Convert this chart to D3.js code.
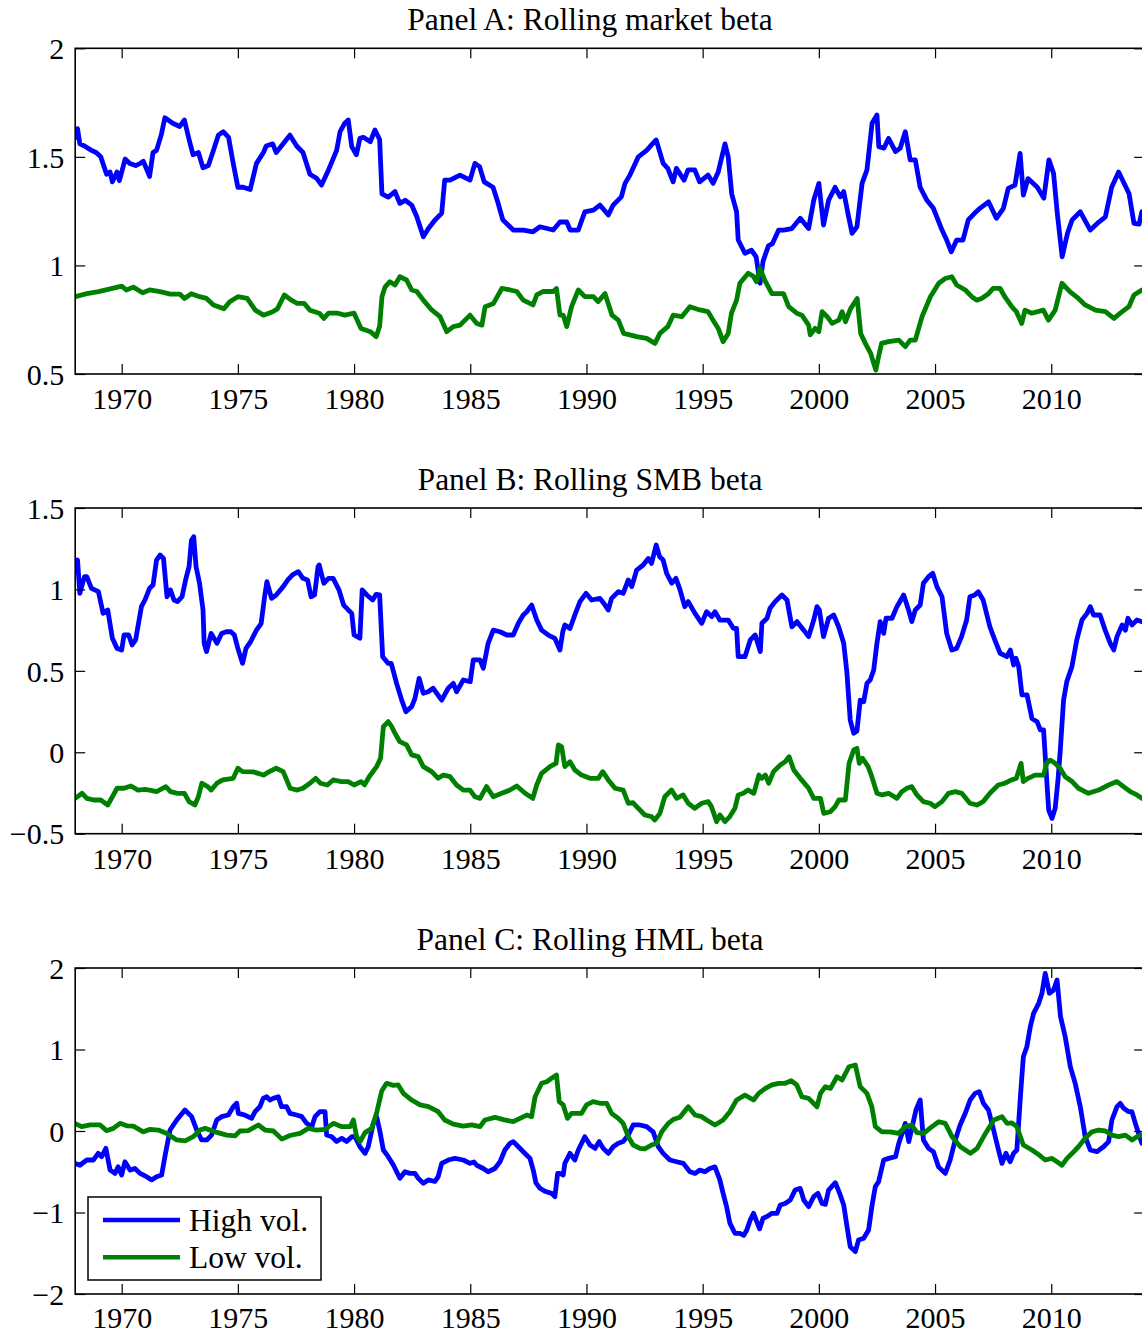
<!DOCTYPE html>
<html>
<head>
<meta charset="utf-8">
<script src="https://cdn.jsdelivr.net/npm/d3@7"></script>
<style>
  html, body { margin: 0; padding: 0; background: #fff; }
  svg { display: block; }
  text { font-family: "Liberation Serif", "Times New Roman", Times, serif; fill: #000; }
</style>
</head>
<body>
<svg id="chart" width="1142" height="1335"></svg>
<script>
// ---------------- DATA ----------------
const xTickYears = [1970, 1975, 1980, 1985, 1990, 1995, 2000, 2005, 2010];
const panelTitles = ["Panel A: Rolling market beta", "Panel B: Rolling SMB beta", "Panel C: Rolling HML beta"];
const yTicksA = [0.5, 1, 1.5, 2];
const yTicksB = [-0.5, 0, 0.5, 1, 1.5];
const yTicksC = [-2, -1, 0, 1, 2];
const legendLabels = ["High vol.", "Low vol."];

// Panel A: rolling market beta [year, beta]
const marketHigh = [
[1968.0,1.59],[1968.1,1.63],[1968.2,1.56],[1968.4,1.55],[1968.7,1.53],[1968.9,1.52],[1969.1,1.50],[1969.35,1.42],
[1969.5,1.43],[1969.6,1.385],[1969.8,1.43],[1969.9,1.39],[1970.15,1.49],[1970.35,1.47],[1970.6,1.46],[1970.8,1.47],
[1970.93,1.48],[1971.2,1.41],[1971.35,1.52],[1971.5,1.53],[1971.7,1.60],[1971.86,1.68],[1972.2,1.655],[1972.5,1.64],
[1972.7,1.67],[1972.9,1.58],[1973.07,1.51],[1973.3,1.52],[1973.5,1.45],[1973.73,1.46],[1973.95,1.53],[1974.16,1.60],
[1974.37,1.616],[1974.6,1.59],[1974.8,1.47],[1975.0,1.36],[1975.23,1.36],[1975.53,1.35],[1975.8,1.47],[1976.1,1.52],
[1976.22,1.55],[1976.5,1.56],[1976.65,1.52],[1976.95,1.56],[1977.24,1.60],[1977.53,1.55],[1977.8,1.52],[1978.1,1.42],
[1978.4,1.40],[1978.6,1.37],[1978.9,1.44],[1979.25,1.53],[1979.4,1.616],[1979.6,1.655],[1979.75,1.67],[1979.9,1.547],
[1980.1,1.51],[1980.25,1.585],[1980.4,1.59],[1980.7,1.57],[1980.9,1.624],[1981.1,1.58],[1981.2,1.33],[1981.47,1.315],
[1981.76,1.34],[1981.97,1.286],[1982.2,1.30],[1982.48,1.278],[1982.7,1.224],[1982.98,1.132],[1983.2,1.17],[1983.49,1.21],
[1983.77,1.24],[1983.9,1.393],[1984.13,1.393],[1984.56,1.416],[1984.99,1.393],[1985.2,1.47],[1985.4,1.455],[1985.6,1.385],
[1985.98,1.36],[1986.2,1.286],[1986.4,1.21],[1986.85,1.163],[1987.28,1.163],[1987.7,1.155],[1988.0,1.178],[1988.57,1.163],
[1988.86,1.20],[1989.15,1.20],[1989.3,1.163],[1989.65,1.163],[1989.93,1.247],[1990.3,1.255],[1990.58,1.278],[1990.94,1.232],
[1991.15,1.278],[1991.5,1.316],[1991.66,1.378],[1991.87,1.416],[1992.1,1.47],[1992.23,1.50],[1992.59,1.53],[1992.8,1.555],
[1993.0,1.578],[1993.3,1.47],[1993.5,1.447],[1993.73,1.385],[1993.87,1.447],[1994.2,1.393],[1994.37,1.44],[1994.66,1.44],
[1994.87,1.385],[1995.23,1.416],[1995.45,1.378],[1995.67,1.43],[1995.96,1.56],[1996.1,1.50],[1996.25,1.33],[1996.46,1.247],
[1996.53,1.117],[1996.82,1.056],[1997.1,1.07],[1997.3,1.04],[1997.47,0.918],[1997.6,1.02],[1997.83,1.09],[1998.0,1.10],
[1998.27,1.163],[1998.48,1.163],[1998.84,1.17],[1999.2,1.217],[1999.56,1.17],[1999.78,1.30],[2000.0,1.378],[2000.2,1.186],
[2000.42,1.30],[2000.7,1.36],[2000.92,1.316],[2001.07,1.34],[2001.28,1.224],[2001.43,1.148],[2001.64,1.178],[2001.86,1.378],
[2002.07,1.44],[2002.29,1.655],[2002.5,1.693],[2002.58,1.547],[2002.8,1.54],[2003.0,1.585],[2003.3,1.524],[2003.5,1.54],
[2003.72,1.616],[2003.93,1.486],[2004.15,1.486],[2004.36,1.36],[2004.65,1.30],[2004.93,1.263],[2005.3,1.163],[2005.5,1.117],
[2005.7,1.063],[2005.93,1.117],[2006.2,1.117],[2006.43,1.21],[2006.7,1.24],[2006.93,1.263],[2007.3,1.293],[2007.64,1.217],
[2007.94,1.263],[2008.15,1.355],[2008.44,1.37],[2008.66,1.516],[2008.8,1.324],[2009.0,1.40],[2009.4,1.36],[2009.68,1.31],
[2009.9,1.486],[2010.1,1.424],[2010.26,1.24],[2010.47,1.04],[2010.7,1.148],[2010.9,1.21],[2011.25,1.247],[2011.68,1.163],
[2012.05,1.20],[2012.33,1.224],[2012.6,1.36],[2012.9,1.43],[2013.35,1.33],[2013.56,1.194],[2013.78,1.19],[2013.9,1.247]
];
const marketLow = [
[1968.0,0.856],[1968.5,0.87],[1969.0,0.879],[1969.6,0.894],[1970.0,0.905],[1970.2,0.887],[1970.5,0.90],[1970.9,0.874],
[1971.2,0.887],[1971.65,0.879],[1972.1,0.868],[1972.5,0.868],[1972.7,0.848],[1973.0,0.87],[1973.35,0.856],[1973.65,0.848],
[1973.95,0.818],[1974.4,0.80],[1974.65,0.833],[1975.0,0.856],[1975.4,0.848],[1975.75,0.794],[1976.1,0.771],[1976.5,0.787],
[1976.7,0.80],[1977.0,0.864],[1977.3,0.84],[1977.55,0.825],[1977.85,0.825],[1978.1,0.794],[1978.5,0.78],[1978.7,0.756],
[1978.9,0.78],[1979.3,0.78],[1979.6,0.771],[1980.0,0.78],[1980.3,0.71],[1980.7,0.695],[1980.95,0.672],[1981.1,0.72],
[1981.2,0.856],[1981.33,0.90],[1981.54,0.925],[1981.76,0.91],[1981.97,0.948],[1982.26,0.933],[1982.48,0.887],[1982.7,0.88],
[1982.98,0.84],[1983.34,0.795],[1983.7,0.764],[1983.99,0.695],[1984.27,0.718],[1984.56,0.725],[1984.99,0.771],[1985.28,0.733],
[1985.5,0.725],[1985.64,0.81],[1986.0,0.825],[1986.36,0.894],[1986.72,0.887],[1987.0,0.88],[1987.28,0.84],[1987.7,0.818],
[1987.86,0.864],[1988.14,0.88],[1988.57,0.88],[1988.71,0.894],[1988.86,0.771],[1989.0,0.771],[1989.15,0.718],[1989.36,0.81],
[1989.65,0.887],[1989.93,0.856],[1990.3,0.856],[1990.5,0.833],[1990.8,0.87],[1991.1,0.771],[1991.37,0.748],[1991.6,0.687],
[1991.87,0.68],[1992.16,0.672],[1992.59,0.664],[1992.95,0.641],[1993.16,0.687],[1993.5,0.718],[1993.73,0.771],[1994.1,0.764],
[1994.45,0.81],[1994.88,0.795],[1995.23,0.787],[1995.45,0.748],[1995.67,0.71],[1995.88,0.649],[1996.1,0.687],[1996.24,0.78],
[1996.46,0.84],[1996.6,0.918],[1996.96,0.964],[1997.18,0.95],[1997.32,0.925],[1997.47,0.987],[1997.68,0.93],[1997.98,0.87],
[1998.27,0.87],[1998.48,0.87],[1998.7,0.81],[1999.05,0.78],[1999.27,0.771],[1999.56,0.725],[1999.63,0.68],[1999.84,0.71],
[2000.0,0.695],[2000.14,0.787],[2000.36,0.764],[2000.57,0.733],[2000.86,0.748],[2001.0,0.787],[2001.15,0.741],[2001.36,0.80],
[2001.65,0.848],[2001.8,0.687],[2002.0,0.641],[2002.23,0.595],[2002.45,0.518],[2002.6,0.595],[2002.7,0.641],[2003.0,0.649],
[2003.44,0.656],[2003.72,0.626],[2003.93,0.656],[2004.15,0.656],[2004.44,0.764],[2004.8,0.856],[2005.16,0.918],[2005.44,0.94],
[2005.72,0.948],[2005.93,0.91],[2006.3,0.887],[2006.58,0.856],[2006.8,0.84],[2007.0,0.848],[2007.3,0.87],[2007.5,0.894],
[2007.8,0.894],[2008.0,0.856],[2008.3,0.81],[2008.5,0.787],[2008.73,0.733],[2008.87,0.794],[2009.16,0.78],[2009.66,0.794],
[2009.88,0.748],[2010.17,0.794],[2010.46,0.918],[2010.8,0.879],[2011.17,0.848],[2011.46,0.818],[2011.9,0.794],[2012.33,0.787],
[2012.7,0.756],[2012.97,0.78],[2013.34,0.81],[2013.56,0.864],[2013.9,0.887]
];

// Panel B: rolling SMB beta
const smbHigh = [
[1968.0,1.16],[1968.1,1.18],[1968.2,0.976],[1968.4,1.078],[1968.5,1.078],[1968.7,1.007],[1969.0,0.986],[1969.2,0.853],
[1969.4,0.874],[1969.6,0.70],[1969.8,0.638],[1970.0,0.628],[1970.1,0.72],[1970.3,0.72],[1970.45,0.659],[1970.6,0.69],
[1970.85,0.894],[1971.0,0.935],[1971.2,1.007],[1971.35,1.027],[1971.5,1.18],[1971.65,1.211],[1971.8,1.19],[1971.95,0.955],
[1972.1,0.997],[1972.25,0.935],[1972.4,0.925],[1972.6,0.956],[1972.75,1.058],[1972.9,1.14],[1973.0,1.30],[1973.1,1.324],
[1973.2,1.14],[1973.35,1.038],[1973.5,0.874],[1973.55,0.669],[1973.65,0.618],[1973.85,0.73],[1974.1,0.669],[1974.3,0.73],
[1974.5,0.74],[1974.7,0.74],[1974.85,0.72],[1975.0,0.638],[1975.2,0.546],[1975.35,0.638],[1975.55,0.68],[1975.8,0.75],
[1976.0,0.79],[1976.15,0.955],[1976.25,1.048],[1976.45,0.945],[1976.65,0.966],[1976.95,1.017],[1977.15,1.058],[1977.35,1.089],
[1977.6,1.109],[1977.8,1.068],[1978.0,1.058],[1978.15,0.955],[1978.3,0.966],[1978.45,1.14],[1978.5,1.15],[1978.7,1.038],
[1978.9,1.068],[1979.1,1.068],[1979.35,0.997],[1979.55,0.904],[1979.75,0.874],[1979.9,0.853],[1980.0,0.72],[1980.25,0.70],
[1980.35,0.997],[1980.55,0.966],[1980.8,0.935],[1980.95,0.97],[1981.1,0.966],[1981.23,0.587],[1981.47,0.546],[1981.6,0.546],
[1981.83,0.423],[1982.05,0.32],[1982.23,0.249],[1982.48,0.28],[1982.62,0.331],[1982.8,0.454],[1982.98,0.362],[1983.19,0.372],
[1983.4,0.393],[1983.77,0.32],[1984.05,0.393],[1984.27,0.423],[1984.41,0.372],[1984.7,0.444],[1985.0,0.434],[1985.13,0.567],
[1985.42,0.567],[1985.56,0.516],[1985.77,0.669],[1985.99,0.75],[1986.28,0.74],[1986.57,0.72],[1986.85,0.72],[1987.07,0.792],
[1987.28,0.843],[1987.43,0.863],[1987.64,0.904],[1987.86,0.812],[1988.07,0.75],[1988.36,0.72],[1988.64,0.70],[1988.86,0.628],
[1988.98,0.74],[1989.07,0.782],[1989.29,0.76],[1989.5,0.843],[1989.72,0.925],[1989.98,0.976],[1990.22,0.935],[1990.58,0.945],
[1990.8,0.904],[1990.94,0.874],[1991.08,0.945],[1991.37,0.986],[1991.58,0.976],[1991.8,1.058],[1991.95,1.017],[1992.16,1.119],
[1992.44,1.15],[1992.66,1.19],[1992.8,1.16],[1993.0,1.273],[1993.15,1.20],[1993.3,1.18],[1993.45,1.099],[1993.67,1.038],
[1993.85,1.068],[1994.02,1.0],[1994.23,0.894],[1994.38,0.925],[1994.67,0.853],[1994.96,0.792],[1995.17,0.863],[1995.39,0.833],
[1995.53,0.863],[1995.74,0.812],[1996.1,0.812],[1996.32,0.761],[1996.46,0.761],[1996.53,0.587],[1996.82,0.587],[1997.05,0.69],
[1997.26,0.72],[1997.48,0.618],[1997.55,0.792],[1997.77,0.823],[1997.9,0.884],[1998.12,0.925],[1998.41,0.966],[1998.63,0.935],
[1998.84,0.771],[1999.06,0.802],[1999.35,0.75],[1999.56,0.71],[1999.78,0.812],[1999.92,0.894],[2000.02,0.874],[2000.2,0.71],
[2000.42,0.823],[2000.64,0.843],[2000.85,0.771],[2001.07,0.669],[2001.21,0.485],[2001.35,0.198],[2001.5,0.117],[2001.64,0.13],
[2001.78,0.32],[2001.93,0.31],[2002.07,0.423],[2002.21,0.444],[2002.36,0.505],[2002.5,0.669],[2002.64,0.802],[2002.79,0.73],
[2002.89,0.823],[2003.15,0.823],[2003.36,0.894],[2003.65,0.966],[2003.86,0.874],[2004.0,0.802],[2004.15,0.874],[2004.36,0.904],
[2004.5,1.038],[2004.72,1.078],[2004.9,1.099],[2005.08,1.017],[2005.3,0.955],[2005.5,0.73],[2005.72,0.628],[2005.93,0.638],
[2006.14,0.71],[2006.36,0.812],[2006.5,0.955],[2006.71,0.966],[2006.86,0.986],[2007.07,0.935],[2007.36,0.771],[2007.57,0.69],
[2007.8,0.608],[2008.09,0.587],[2008.24,0.628],[2008.38,0.536],[2008.48,0.577],[2008.6,0.526],[2008.74,0.352],[2008.96,0.352],
[2009.17,0.208],[2009.39,0.188],[2009.53,0.137],[2009.67,0.137],[2009.77,-0.088],[2009.89,-0.355],[2010.03,-0.406],[2010.17,-0.344],
[2010.29,-0.17],[2010.39,0.014],[2010.53,0.32],[2010.67,0.434],[2010.89,0.526],[2011.1,0.69],[2011.32,0.812],[2011.54,0.853],
[2011.68,0.894],[2011.82,0.843],[2012.1,0.843],[2012.32,0.75],[2012.54,0.669],[2012.69,0.628],[2012.83,0.71],[2013.05,0.782],
[2013.19,0.75],[2013.3,0.823],[2013.48,0.782],[2013.69,0.812],[2013.9,0.802]
];
const smbLow = [
[1968.0,-0.283],[1968.3,-0.252],[1968.5,-0.283],[1968.8,-0.293],[1969.1,-0.293],[1969.4,-0.324],[1969.6,-0.273],[1969.8,-0.221],
[1970.1,-0.221],[1970.4,-0.207],[1970.7,-0.232],[1971.0,-0.228],[1971.2,-0.232],[1971.5,-0.242],[1971.9,-0.211],[1972.1,-0.242],
[1972.4,-0.252],[1972.7,-0.252],[1972.9,-0.303],[1973.15,-0.324],[1973.3,-0.273],[1973.45,-0.19],[1973.7,-0.211],[1973.85,-0.232],
[1974.1,-0.19],[1974.35,-0.17],[1974.8,-0.16],[1975.0,-0.098],[1975.2,-0.119],[1975.65,-0.12],[1976.1,-0.14],[1976.35,-0.119],
[1976.65,-0.098],[1976.95,-0.119],[1977.25,-0.221],[1977.55,-0.232],[1977.8,-0.221],[1978.1,-0.19],[1978.35,-0.16],[1978.55,-0.19],
[1978.85,-0.201],[1979.1,-0.17],[1979.45,-0.18],[1979.75,-0.18],[1980.0,-0.201],[1980.3,-0.18],[1980.45,-0.2],[1980.65,-0.15],
[1980.97,-0.088],[1981.14,-0.037],[1981.26,0.157],[1981.47,0.188],[1981.62,0.157],[1981.76,0.117],[1981.97,0.065],[1982.26,0.045],
[1982.48,-0.016],[1982.76,-0.027],[1982.98,-0.088],[1983.34,-0.119],[1983.62,-0.16],[1983.84,-0.14],[1984.13,-0.15],[1984.41,-0.201],
[1984.7,-0.232],[1984.99,-0.232],[1985.2,-0.273],[1985.42,-0.283],[1985.7,-0.211],[1985.99,-0.273],[1986.35,-0.252],[1986.71,-0.232],
[1987.0,-0.207],[1987.36,-0.252],[1987.69,-0.283],[1987.86,-0.201],[1988.07,-0.129],[1988.43,-0.088],[1988.69,-0.068],[1988.79,0.045],
[1988.93,0.035],[1989.07,-0.088],[1989.29,-0.058],[1989.5,-0.109],[1989.79,-0.14],[1990.15,-0.16],[1990.51,-0.16],[1990.7,-0.119],
[1990.94,-0.17],[1991.23,-0.221],[1991.58,-0.232],[1991.8,-0.313],[1992.01,-0.31],[1992.23,-0.344],[1992.51,-0.385],[1992.8,-0.395],
[1992.94,-0.416],[1993.16,-0.375],[1993.37,-0.273],[1993.66,-0.232],[1993.88,-0.283],[1994.16,-0.262],[1994.38,-0.313],[1994.66,-0.344],
[1994.96,-0.313],[1995.24,-0.303],[1995.38,-0.334],[1995.6,-0.426],[1995.74,-0.385],[1995.96,-0.426],[1996.17,-0.395],[1996.39,-0.344],
[1996.53,-0.262],[1996.75,-0.252],[1996.96,-0.232],[1997.2,-0.252],[1997.42,-0.14],[1997.55,-0.16],[1997.7,-0.14],[1997.84,-0.19],
[1998.05,-0.119],[1998.34,-0.078],[1998.55,-0.058],[1998.72,-0.027],[1998.92,-0.109],[1999.2,-0.16],[1999.56,-0.221],[1999.78,-0.283],
[2000.07,-0.283],[2000.21,-0.375],[2000.5,-0.365],[2000.7,-0.334],[2000.86,-0.293],[2001.14,-0.293],[2001.3,-0.068],[2001.5,0.014],
[2001.64,0.024],[2001.74,-0.068],[2001.88,-0.037],[2002.12,-0.088],[2002.28,-0.15],[2002.5,-0.252],[2002.72,-0.262],[2003.0,-0.252],
[2003.36,-0.283],[2003.57,-0.242],[2003.79,-0.221],[2004.0,-0.211],[2004.22,-0.262],[2004.5,-0.303],[2004.79,-0.313],[2005.0,-0.334],
[2005.3,-0.303],[2005.58,-0.252],[2005.87,-0.242],[2006.15,-0.252],[2006.5,-0.313],[2006.8,-0.324],[2007.07,-0.303],[2007.36,-0.252],
[2007.72,-0.201],[2008.0,-0.19],[2008.29,-0.17],[2008.5,-0.16],[2008.7,-0.068],[2008.8,-0.18],[2009.0,-0.16],[2009.3,-0.14],
[2009.67,-0.14],[2009.8,-0.068],[2009.95,-0.048],[2010.17,-0.068],[2010.38,-0.098],[2010.6,-0.15],[2010.9,-0.18],[2011.17,-0.221],
[2011.6,-0.252],[2012.04,-0.232],[2012.47,-0.201],[2012.83,-0.18],[2013.11,-0.211],[2013.4,-0.242],[2013.69,-0.262],[2013.9,-0.283]
];

// Panel C: rolling HML beta
const hmlHigh = [
[1967.98,-0.397],[1968.2,-0.42],[1968.5,-0.356],[1968.78,-0.356],[1968.99,-0.274],[1969.14,-0.315],[1969.32,-0.213],[1969.5,-0.479],
[1969.71,-0.52],[1969.85,-0.44],[1970.0,-0.54],[1970.14,-0.377],[1970.36,-0.48],[1970.57,-0.46],[1970.79,-0.52],[1971.07,-0.561],
[1971.29,-0.60],[1971.5,-0.561],[1971.72,-0.54],[1971.86,-0.315],[1972.08,0.012],[1972.37,0.135],[1972.72,0.258],[1973.01,0.176],
[1973.23,0.012],[1973.44,-0.11],[1973.66,-0.11],[1973.87,-0.05],[1974.09,0.135],[1974.3,0.176],[1974.59,0.196],[1974.8,0.298],
[1974.95,0.34],[1975.02,0.217],[1975.3,0.196],[1975.59,0.155],[1975.74,0.237],[1975.95,0.298],[1976.09,0.40],[1976.24,0.42],
[1976.38,0.38],[1976.52,0.40],[1976.74,0.42],[1976.88,0.298],[1977.1,0.298],[1977.24,0.217],[1977.53,0.196],[1977.75,0.176],
[1977.96,0.094],[1978.18,0.053],[1978.32,0.176],[1978.53,0.237],[1978.75,0.237],[1978.82,-0.05],[1979.04,-0.07],[1979.25,-0.13],
[1979.47,-0.09],[1979.68,-0.13],[1979.9,-0.07],[1980.04,-0.07],[1980.25,-0.193],[1980.47,-0.274],[1980.61,-0.193],[1980.83,0.094],
[1980.97,0.176],[1981.1,0.012],[1981.26,-0.233],[1981.47,-0.315],[1981.69,-0.417],[1981.97,-0.58],[1982.19,-0.5],[1982.4,-0.52],
[1982.62,-0.52],[1982.76,-0.58],[1982.98,-0.64],[1983.19,-0.60],[1983.48,-0.62],[1983.62,-0.56],[1983.77,-0.397],[1984.05,-0.356],
[1984.34,-0.336],[1984.7,-0.356],[1984.99,-0.397],[1985.16,-0.38],[1985.28,-0.42],[1985.56,-0.46],[1985.77,-0.5],[1986.06,-0.46],
[1986.28,-0.377],[1986.49,-0.233],[1986.71,-0.151],[1986.85,-0.13],[1987.07,-0.193],[1987.28,-0.254],[1987.57,-0.336],[1987.71,-0.48],
[1987.83,-0.64],[1988.0,-0.703],[1988.21,-0.74],[1988.5,-0.765],[1988.64,-0.806],[1988.76,-0.52],[1988.86,-0.52],[1989.0,-0.54],
[1989.07,-0.397],[1989.29,-0.274],[1989.5,-0.356],[1989.65,-0.233],[1989.93,-0.07],[1990.15,-0.172],[1990.37,-0.213],[1990.55,-0.13],
[1990.72,-0.213],[1990.94,-0.274],[1991.15,-0.193],[1991.37,-0.15],[1991.58,-0.13],[1991.8,-0.05],[1992.01,0.074],[1992.3,0.074],
[1992.59,0.053],[1992.87,-0.01],[1993.09,-0.193],[1993.3,-0.274],[1993.59,-0.356],[1993.88,-0.377],[1994.17,-0.397],[1994.45,-0.5],
[1994.67,-0.52],[1994.88,-0.48],[1995.1,-0.5],[1995.31,-0.46],[1995.53,-0.44],[1995.74,-0.6],[1995.88,-0.765],[1996.03,-0.928],
[1996.17,-1.13],[1996.39,-1.255],[1996.6,-1.255],[1996.77,-1.28],[1996.9,-1.215],[1997.05,-1.09],[1997.19,-1.01],[1997.45,-1.2],
[1997.6,-1.07],[1997.77,-1.05],[1997.98,-1.01],[1998.2,-1.01],[1998.34,-0.908],[1998.55,-0.89],[1998.77,-0.847],[1998.98,-0.724],
[1999.2,-0.704],[1999.35,-0.847],[1999.56,-0.928],[1999.78,-0.806],[1999.96,-0.765],[2000.14,-0.89],[2000.28,-0.9],[2000.42,-0.724],
[2000.71,-0.634],[2000.92,-0.785],[2001.07,-0.908],[2001.21,-1.17],[2001.35,-1.42],[2001.57,-1.48],[2001.71,-1.337],[2001.93,-1.317],
[2002.14,-1.215],[2002.28,-0.928],[2002.43,-0.683],[2002.57,-0.622],[2002.79,-0.356],[2003.0,-0.336],[2003.3,-0.315],[2003.44,-0.151],
[2003.58,-0.03],[2003.72,0.094],[2003.87,-0.13],[2004.0,0.032],[2004.18,0.258],[2004.36,0.38],[2004.5,-0.11],[2004.72,-0.213],
[2004.93,-0.254],[2005.15,-0.44],[2005.44,-0.52],[2005.65,-0.356],[2005.87,-0.11],[2006.08,0.074],[2006.3,0.217],[2006.51,0.38],
[2006.72,0.462],[2006.9,0.483],[2007.08,0.34],[2007.3,0.258],[2007.52,0.012],[2007.73,-0.233],[2007.88,-0.397],[2008.05,-0.274],
[2008.23,-0.377],[2008.38,-0.274],[2008.52,-0.233],[2008.68,0.45],[2008.8,0.912],[2008.95,1.034],[2009.1,1.28],[2009.24,1.444],
[2009.46,1.567],[2009.6,1.69],[2009.74,1.935],[2009.92,1.69],[2010.1,1.73],[2010.25,1.853],[2010.4,1.403],[2010.6,1.157],
[2010.82,0.789],[2011.03,0.585],[2011.25,0.298],[2011.46,-0.07],[2011.68,-0.233],[2011.97,-0.254],[2012.25,-0.193],[2012.47,-0.13],
[2012.61,0.135],[2012.83,0.298],[2012.97,0.34],[2013.12,0.278],[2013.33,0.237],[2013.47,0.237],[2013.62,0.094],[2013.76,-0.03],
[2013.9,-0.15]
];
const hmlLow = [
[1967.98,0.094],[1968.28,0.053],[1968.64,0.074],[1969.07,0.074],[1969.35,0.004],[1969.64,0.032],[1969.93,0.094],[1970.22,0.064],
[1970.5,0.06],[1970.93,-0.01],[1971.22,0.02],[1971.58,0.012],[1971.94,-0.03],[1972.37,-0.11],[1972.73,-0.12],[1973.08,-0.07],
[1973.37,0.012],[1973.59,0.032],[1974.02,-0.01],[1974.52,-0.05],[1974.88,-0.06],[1975.09,0.0],[1975.45,0.004],[1975.88,0.074],
[1976.17,0.012],[1976.53,0.0],[1976.89,-0.10],[1977.24,-0.055],[1977.67,-0.03],[1978.03,0.032],[1978.39,0.012],[1978.75,0.02],
[1979.11,0.094],[1979.47,0.053],[1979.83,0.053],[1979.97,0.135],[1980.11,-0.07],[1980.26,-0.13],[1980.47,-0.02],[1980.76,0.032],
[1980.97,0.22],[1981.19,0.49],[1981.4,0.585],[1981.69,0.56],[1981.9,0.565],[1982.12,0.462],[1982.48,0.38],[1982.84,0.32],
[1983.2,0.30],[1983.62,0.237],[1983.9,0.135],[1984.27,0.085],[1984.7,0.06],[1985.06,0.074],[1985.42,0.053],[1985.63,0.135],
[1986.06,0.168],[1986.42,0.14],[1986.85,0.114],[1987.14,0.155],[1987.43,0.196],[1987.64,0.176],[1987.79,0.42],[1988.07,0.585],
[1988.29,0.605],[1988.5,0.647],[1988.71,0.687],[1988.83,0.36],[1989.0,0.32],[1989.18,0.155],[1989.36,0.217],[1989.79,0.217],
[1990.0,0.32],[1990.29,0.36],[1990.58,0.34],[1990.87,0.34],[1991.08,0.217],[1991.37,0.155],[1991.58,0.094],[1991.8,-0.07],
[1992.01,-0.172],[1992.3,-0.213],[1992.51,-0.22],[1992.8,-0.172],[1993.02,-0.15],[1993.24,-0.01],[1993.52,0.094],[1993.73,0.14],
[1994.02,0.168],[1994.38,0.298],[1994.67,0.196],[1994.96,0.176],[1995.17,0.135],[1995.53,0.074],[1995.88,0.135],[1996.17,0.237],
[1996.46,0.38],[1996.82,0.44],[1997.19,0.38],[1997.41,0.462],[1997.7,0.523],[1997.98,0.565],[1998.27,0.585],[1998.55,0.585],
[1998.81,0.617],[1999.05,0.565],[1999.27,0.42],[1999.56,0.40],[1999.92,0.298],[2000.07,0.462],[2000.28,0.544],[2000.5,0.523],
[2000.78,0.666],[2001.0,0.626],[2001.3,0.789],[2001.57,0.81],[2001.78,0.544],[2002.07,0.462],[2002.28,0.298],[2002.43,0.053],
[2002.72,-0.01],[2003.07,-0.01],[2003.43,-0.03],[2003.72,0.053],[2004.0,0.074],[2004.22,-0.02],[2004.51,-0.03],[2004.87,0.053],
[2005.16,0.114],[2005.44,0.094],[2005.73,-0.07],[2006.09,-0.193],[2006.52,-0.274],[2006.81,-0.213],[2007.17,-0.03],[2007.53,0.135],
[2007.88,0.176],[2008.1,0.094],[2008.3,0.1],[2008.52,0.053],[2008.8,-0.172],[2009.17,-0.233],[2009.46,-0.29],[2009.74,-0.356],
[2010.03,-0.336],[2010.25,-0.377],[2010.46,-0.42],[2010.68,-0.336],[2010.9,-0.274],[2011.17,-0.193],[2011.46,-0.09],[2011.75,-0.01],
[2012.04,0.012],[2012.33,0.0],[2012.61,-0.05],[2012.9,-0.07],[2013.19,-0.05],[2013.48,-0.11],[2013.69,-0.07],[2013.9,-0.05]
];

// ---------------- DRAWING ----------------
const svg = d3.select("#chart");
const colors = { high: "#0000ff", low: "#008000" };
const font = 30;

const x = d3.scaleLinear().domain([1968, 2014]).range([75.2, 1144.2]);

const panels = [
  { top: 48.3, bottom: 374, domain: [0.5, 2], ticks: yTicksA, title: panelTitles[0], high: marketHigh, low: marketLow, pad: 14 },
  { top: 508, bottom: 833.7, domain: [-0.5, 1.5], ticks: yTicksB, title: panelTitles[1], high: smbHigh, low: smbLow, pad: 14 },
  { top: 968, bottom: 1294, domain: [-2, 2], ticks: yTicksC, title: panelTitles[2], high: hmlHigh, low: hmlLow, pad: 12.5 }
];

const fmt = v => String(v).replace("-", "\u2212");

panels.forEach((p, i) => {
  const y = d3.scaleLinear().domain(p.domain).range([p.bottom, p.top]);
  const g = svg.append("g");
  const [x0, x1] = x.range();

  const clipId = "clip" + i;
  svg.append("clipPath").attr("id", clipId)
    .append("rect").attr("x", x0).attr("y", p.top).attr("width", x1 - x0).attr("height", p.bottom - p.top);

  // data lines
  const line = d3.line().x(d => x(d[0])).y(d => y(d[1]));
  const lg = g.append("g").attr("clip-path", `url(#${clipId})`);
  lg.append("path").datum(p.high).attr("d", line)
    .attr("fill", "none").attr("stroke", colors.high).attr("stroke-width", 4.8)
    .attr("stroke-linejoin", "round").attr("stroke-linecap", "round");
  lg.append("path").datum(p.low).attr("d", line)
    .attr("fill", "none").attr("stroke", colors.low).attr("stroke-width", 4.8)
    .attr("stroke-linejoin", "round").attr("stroke-linecap", "round");

  // axes (ticks inside)
  const bottom = g.append("g").attr("transform", `translate(0,${p.bottom})`)
    .call(d3.axisBottom(x).tickValues(xTickYears).tickFormat(d3.format("d")).tickSizeInner(-10).tickSizeOuter(0).tickPadding(p.pad));
  const top = g.append("g").attr("transform", `translate(0,${p.top})`)
    .call(d3.axisTop(x).tickValues(xTickYears).tickFormat("").tickSizeInner(-10).tickSizeOuter(0));
  const left = g.append("g").attr("transform", `translate(${x0},0)`)
    .call(d3.axisLeft(y).tickValues(p.ticks).tickFormat(fmt).tickSizeInner(-10).tickSizeOuter(0).tickPadding(11));
  const right = g.append("g").attr("transform", `translate(${x1},0)`)
    .call(d3.axisRight(y).tickValues(p.ticks).tickFormat("").tickSizeInner(-10).tickSizeOuter(0));

  [bottom, top, left, right].forEach(a => {
    a.select(".domain").remove();
    a.selectAll(".tick line").attr("stroke", "#000").attr("stroke-width", 1.2);
    a.selectAll("text").attr("font-size", font).attr("font-family", "Liberation Serif, Times New Roman, serif").attr("fill", "#000");
  });
  left.selectAll("text").attr("dy", "0.34em");

  // frame
  g.append("rect").attr("x", x0).attr("y", p.top).attr("width", x1 - x0).attr("height", p.bottom - p.top)
    .attr("fill", "none").attr("stroke", "#000").attr("stroke-width", 1.6);

  // title
  g.append("text").attr("x", 590).attr("y", p.top - 18).attr("text-anchor", "middle")
    .attr("font-size", 31.5).text(p.title);

  // legend in panel C
  if (i === 2) {
    const leg = g.append("g");
    leg.append("rect").attr("x", 88).attr("y", 1197).attr("width", 233).attr("height", 83)
      .attr("fill", "#fff").attr("stroke", "#000").attr("stroke-width", 1.5);
    [colors.high, colors.low].forEach((c, k) => {
      const ly = 1220 + k * 37.3;
      leg.append("line").attr("x1", 103).attr("x2", 180).attr("y1", ly).attr("y2", ly)
        .attr("stroke", c).attr("stroke-width", 4.5);
      leg.append("text").attr("x", 189).attr("y", ly + 11).attr("font-size", 31.5).text(legendLabels[k]);
    });
  }
});
</script>
</body>
</html>
